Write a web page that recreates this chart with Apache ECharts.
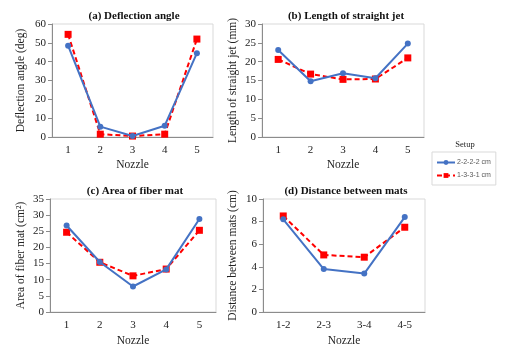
<!DOCTYPE html>
<html>
<head>
<meta charset="utf-8">
<script src="https://cdn.jsdelivr.net/npm/echarts@6/dist/echarts.min.js"></script>
<style>
html,body{margin:0;padding:0;background:#fff;}
#c{width:515px;height:351px;}
</style>
</head>
<body>
<div id="c"></div>
<script>
var nozzles = ['1', '2', '3', '4', '5'];
var pairs = ['1-2', '2-3', '3-4', '4-5'];
var seriesNames = ['2-2-2-2 cm', '1-3-3-1 cm'];

var deflectionA = [48.5, 5.5, 0.5, 6.0, 44.5];
var deflectionB = [54.5, 1.5, 0.5, 1.5, 52.0];
var jetA = [23.1, 14.8, 16.9, 15.6, 24.8];
var jetB = [20.6, 16.7, 15.3, 15.4, 21.0];
var areaA = [26.8, 15.5, 7.9, 13.2, 28.8];
var areaB = [24.7, 15.4, 11.2, 13.3, 25.3];
var distA = [8.2, 3.8, 3.4, 8.4];
var distB = [8.5, 5.05, 4.85, 7.5];

var panelTitles = ['(a) Deflection angle', '(b) Length of straight jet', '(c) Area of fiber mat', '(d) Distance between mats'];
var yNames = ['Deflection angle (deg)', 'Length of straight jet (mm)', 'Area of fiber mat (cm\u00B2)', 'Distance between mats (cm)'];
var yMax = [60, 30, 35, 10];
var yStep = [10, 5, 5, 2];

var FONT = 'Liberation Serif';
var BLUE = '#4472C4', RED = '#FF0000';

var grids = [
  {left: 52, top: 24, width: 161, height: 113},
  {left: 262, top: 24, width: 162, height: 113},
  {left: 50, top: 199, width: 166, height: 113},
  {left: 263, top: 199, width: 162, height: 113}
];
var yNameGap = [25, 23, 23, 24];
var titlePos = [[134, 16], [346, 16], [135, 191], [346, 191]];

var cats = [nozzles, nozzles, nozzles, pairs];
var dataA = [deflectionA, jetA, areaA, distA];
var dataB = [deflectionB, jetB, areaB, distB];

var option = {
  backgroundColor: '#fff',
  animation: false,
  grid: grids.map(function (g) {
    return Object.assign({show: true, borderColor: '#d9d9d9', borderWidth: 1, containLabel: false}, g);
  }),
  xAxis: cats.map(function (c, i) {
    return {
      type: 'category', gridIndex: i, data: c, boundaryGap: true,
      name: 'Nozzle', nameLocation: 'middle', nameGap: i < 2 ? 22 : 23,
      nameTextStyle: {fontFamily: FONT, fontSize: 11.5, color: '#222'},
      axisLine: {lineStyle: {color: '#8c8c8c', width: 1}},
      axisTick: {show: false},
      axisLabel: {fontFamily: FONT, fontSize: 11, color: '#222', margin: 8},
      splitLine: {show: false}
    };
  }),
  yAxis: yMax.map(function (m, i) {
    return {
      type: 'value', gridIndex: i, min: 0, max: m, interval: yStep[i],
      name: yNames[i], nameLocation: 'middle', nameGap: yNameGap[i],
      nameTextStyle: {fontFamily: FONT, fontSize: 11.5, color: '#222'},
      axisLine: {show: true, lineStyle: {color: '#8c8c8c', width: 1}},
      axisTick: {show: true, length: 4, lineStyle: {color: '#8c8c8c'}},
      axisLabel: {fontFamily: FONT, fontSize: 11, color: '#222', margin: 6},
      splitLine: {show: false}
    };
  }),
  legend: {
    data: seriesNames,
    orient: 'vertical',
    left: 432, top: 152,
    padding: [7, 5, 6, 4],
    itemWidth: 18, itemHeight: 6, itemGap: 6,
    borderColor: '#d9d9d9', borderWidth: 1,
    textStyle: {fontFamily: 'Liberation Sans', fontSize: 7, color: '#595959', padding: [0, 0, 0, -3]}
  },
  graphic: titlePos.map(function (p, i) {
    return {
      type: 'text', x: p[0], y: p[1],
      style: {text: panelTitles[i], font: 'bold 11px ' + FONT, fill: '#111', textAlign: 'center', textVerticalAlign: 'middle'}
    };
  }).concat([{
    type: 'text', x: 465, y: 145,
    style: {text: 'Setup', font: '8.5px ' + FONT, fill: '#222', textAlign: 'center', textVerticalAlign: 'middle'}
  }]),
  series: []
};

for (var i = 0; i < 4; i++) {
  option.series.push({
    name: seriesNames[0], type: 'line', xAxisIndex: i, yAxisIndex: i, data: dataA[i],
    symbol: 'circle', symbolSize: 6,
    lineStyle: {color: BLUE, width: 2}, itemStyle: {color: BLUE}, z: 3
  });
  option.series.push({
    name: seriesNames[1], type: 'line', xAxisIndex: i, yAxisIndex: i, data: dataB[i],
    symbol: 'rect', symbolSize: 7,
    lineStyle: {color: RED, width: 2, type: [5, 3]}, itemStyle: {color: RED}, z: 2
  });
}

var chart = echarts.init(document.getElementById('c'), null, {renderer: 'canvas'});
chart.setOption(option);
</script>
</body>
</html>
